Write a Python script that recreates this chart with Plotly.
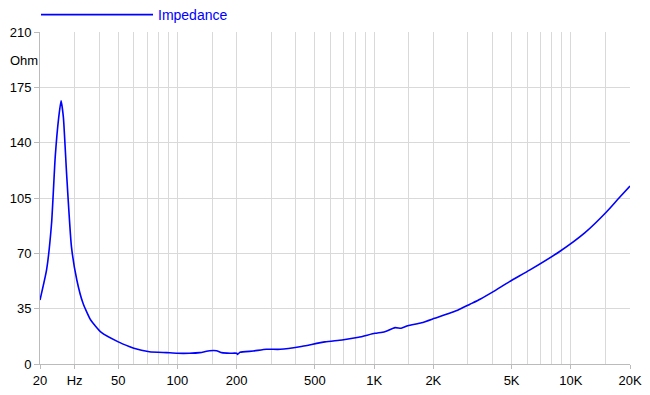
import plotly.graph_objects as go

freq = [20, 21.6, 22.9, 23.9, 24.9, 25.6, 26.3, 27.3, 28.9, 30.8, 33.1, 36.2, 41.0,
        50.0, 57.2, 60, 72, 88, 100, 115, 130, 146, 158, 168, 185, 200, 202, 208,
        243, 283, 333, 419, 562, 687, 834, 1009, 1132, 1278, 1373, 1483, 1743,
        2031, 2660, 3070, 3454, 4036, 4880, 6200, 8740, 11810, 15220, 17440, 20000]
imp = [40.5, 59.5, 89, 131, 156, 166.5, 156, 120.6, 74.2, 53, 38.4, 27.8, 20.0,
       14.0, 10.9, 9.9, 7.8, 7.2, 6.8, 6.8, 7.2, 8.4, 8.4, 7.2, 6.8, 6.8, 6.1, 7.4,
       8.2, 9.3, 9.3, 10.9, 14.0, 15.2, 16.9, 19.4, 20.4, 23.0, 22.6, 24.2, 26.1,
       28.9, 34.0, 37.8, 41.0, 45.8, 52.1, 59.5, 71.0, 83.1, 96.3, 104.5, 112.6]

x_ticks = [20, 30, 50, 100, 200, 500, 1000, 2000, 5000, 10000, 20000]
x_labels = ["20", "Hz", "50", "100", "200", "500", "1K", "2K", "5K", "10K", "20K"]
x_grid = [20, 30, 40, 50, 60, 70, 80, 90, 100, 150, 200, 300, 400, 500, 600, 700,
          800, 900, 1000, 1500, 2000, 3000, 4000, 5000, 6000, 7000, 8000, 9000,
          10000, 15000, 20000]
y_ticks = [0, 35, 70, 105, 140, 175, 210]

W, H = 642, 387  # page body has an 8px default margin
ML, MR = 32, 20
PW = W - ML - MR

fig = go.Figure()
fig.add_trace(go.Scatter(x=freq, y=imp, mode="lines", name="Impedance",
                         line=dict(color="#0000ff", width=1.6, shape="spline", smoothing=0.5)))

fig.update_layout(
    width=W, height=H,
    margin=dict(l=ML, r=MR, t=24, b=31, autoexpand=False),
    paper_bgcolor="white", plot_bgcolor="white",
    font=dict(family="Liberation Sans, Arial, sans-serif", size=13, color="black"),
    showlegend=True,
    legend=dict(x=28 / W, y=1 - 7 / H, xref="container", yref="container",
                xanchor="left", yanchor="middle",
                orientation="h", font=dict(color="#0000ff", size=14),
                itemwidth=112, bgcolor="rgba(0,0,0,0)"),
    xaxis=dict(type="log", range=[1.30103, 4.30103],
               tickvals=x_ticks, ticktext=x_labels,
               ticks="outside", ticklen=4, tickcolor="#bbbbbb",
               showgrid=True, gridcolor="#d9d9d9", gridwidth=1,
               minor=dict(tickvals=x_grid, showgrid=True, gridcolor="#d9d9d9", ticks=""),
               showline=True, linecolor="#bbbbbb", linewidth=1, zeroline=False),
    yaxis=dict(range=[0, 210], tickvals=y_ticks,
               ticks="outside", ticklen=5, tickcolor="#bbbbbb",
               showgrid=True, gridcolor="#d9d9d9",
               showline=True, linecolor="#bbbbbb", linewidth=1, zeroline=False),
    annotations=[dict(text="Ohm", x=-ML / PW, xref="paper", xanchor="left", xshift=0,
                      y=192, yref="y", showarrow=False, font=dict(size=13, color="black"))],
)

fig.write_html("out.html")
